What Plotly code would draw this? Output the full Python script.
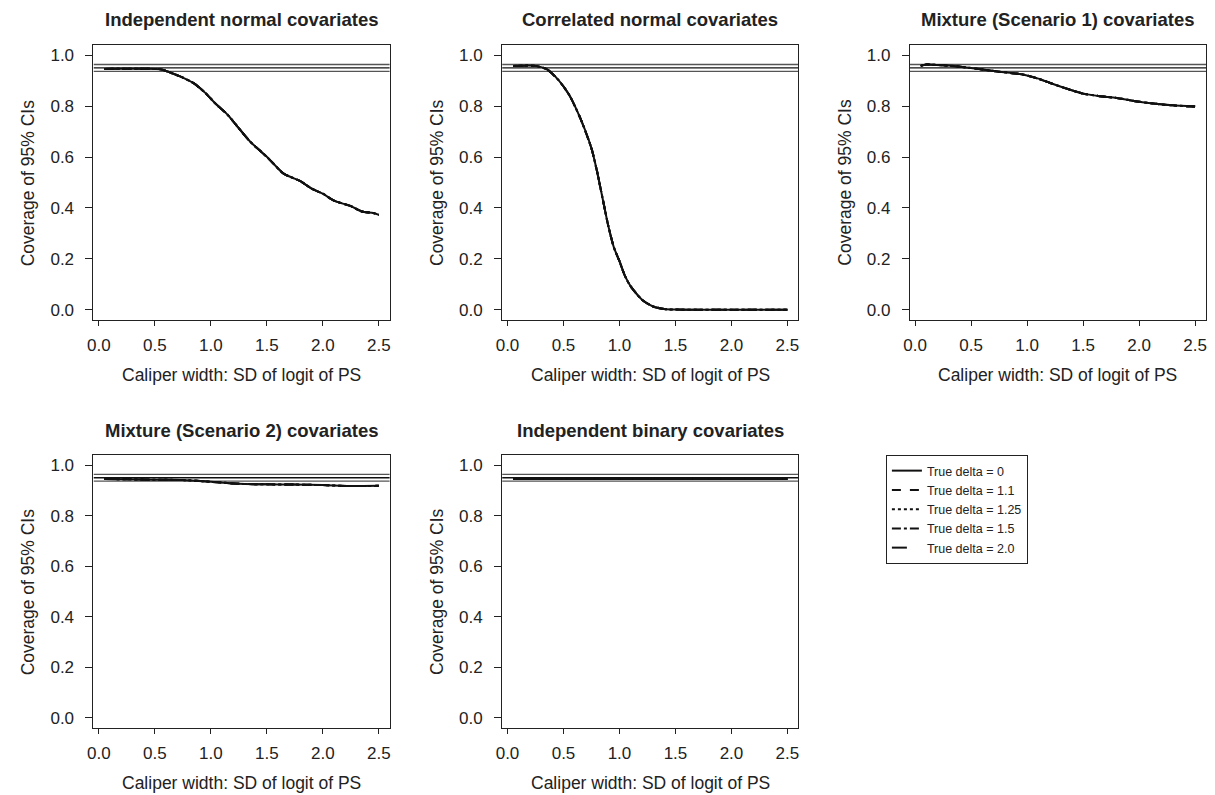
import plotly.graph_objects as go

# ---------------- data ----------------
panel_titles = [
    "Independent normal covariates",
    "Correlated normal covariates",
    "Mixture (Scenario 1) covariates",
    "Mixture (Scenario 2) covariates",
    "Independent binary covariates",
]

delta_labels = ["True delta = 0", "True delta = 1.1", "True delta = 1.25",
                "True delta = 1.5", "True delta = 2.0"]
delta_dashes = ["solid", "dash", "dot", "dashdot", "longdash"]

x_indep = [0.05, 0.2, 0.35, 0.5, 0.55, 0.6, 0.75, 0.85, 0.95, 1.05, 1.15, 1.25, 1.35,
           1.5, 1.65, 1.8, 1.9, 2.0, 2.1, 2.25, 2.35, 2.45, 2.5]
y_indep = [0.946, 0.947, 0.947, 0.946, 0.945, 0.938, 0.912, 0.889, 0.852, 0.806, 0.766,
           0.713, 0.661, 0.601, 0.535, 0.505, 0.476, 0.456, 0.429, 0.407, 0.386, 0.380, 0.373]

x_corr = [0.05, 0.15, 0.25, 0.35, 0.45, 0.55, 0.65, 0.75, 0.8, 0.85, 0.9, 0.95, 1.0,
          1.05, 1.1, 1.2, 1.3, 1.4, 1.5, 1.75, 2.0, 2.25, 2.5]
y_corr = [0.958, 0.959, 0.958, 0.945, 0.905, 0.845, 0.753, 0.634, 0.543, 0.436, 0.330,
          0.245, 0.191, 0.132, 0.092, 0.040, 0.013, 0.003, 0.001, 0.0, 0.0, 0.0, 0.0]

x_mix1 = [0.05, 0.1, 0.25, 0.4, 0.55, 0.75, 0.95, 1.1, 1.2, 1.35, 1.5, 1.65, 1.8,
          2.0, 2.15, 2.3, 2.5]
y_mix1 = [0.958, 0.963, 0.960, 0.955, 0.947, 0.935, 0.925, 0.908, 0.892, 0.869, 0.849,
          0.839, 0.832, 0.817, 0.809, 0.803, 0.798]

x_mix2 = [0.05, 0.25, 0.5, 0.75, 1.0, 1.25, 1.5, 1.75, 2.0, 2.25, 2.5]
y_mix2 = [0.945, 0.944, 0.942, 0.941, 0.934, 0.926, 0.924, 0.923, 0.921, 0.917, 0.918]

x_bin = [0.05, 0.5, 1.0, 1.5, 2.0, 2.5]
y_bin = [0.945, 0.945, 0.945, 0.945, 0.945, 0.945]

panel_x = [x_indep, x_corr, x_mix1, x_mix2, x_bin]
panel_y = [y_indep, y_corr, y_mix1, y_mix2, y_bin]

ref_lines = [0.9635, 0.95, 0.9365]
ref_colors = ["#555555", "#111111", "#555555"]

x_ticks = [0.0, 0.5, 1.0, 1.5, 2.0, 2.5]
y_ticks = [0.0, 0.2, 0.4, 0.6, 0.8, 1.0]

# ---------------- layout geometry ----------------
W, H = 1215, 795
col_px = [(88, 386), (499, 797), (909, 1207)]
row_px = [(45, 320), (455, 728)]
positions = [(0, 0), (0, 1), (0, 2), (1, 0), (1, 1)]

FONT = "Liberation Sans, Arial, Helvetica, sans-serif"
TXT = "#222222"

fig = go.Figure()
layout = dict(
    width=W, height=H,
    margin=dict(l=0, r=0, t=0, b=0),
    paper_bgcolor="white", plot_bgcolor="white",
    font=dict(family=FONT, size=17, color=TXT),
    showlegend=True,
    legend=dict(
        x=885 / W, y=1 - 455 / H, xanchor="left", yanchor="top",
        bordercolor=TXT, borderwidth=1, bgcolor="white",
        font=dict(size=12.5, color=TXT),
        tracegroupgap=0, itemwidth=30,
    ),
)
annotations = []

for i, (r, c) in enumerate(positions):
    ax = "" if i == 0 else str(i + 1)
    x0, x1 = col_px[c]
    y0, y1 = row_px[r]
    layout["xaxis" + ax] = dict(
        domain=[x0 / W, x1 / W], range=[-0.048, 2.598],
        tickvals=x_ticks, ticktext=[f"{v:.1f}" for v in x_ticks],
        ticks="outside", ticklen=5, tickcolor=TXT, ticklabelstandoff=5,
        showline=True, linecolor=TXT, linewidth=1, mirror=True,
        showgrid=False, zeroline=False, anchor="y" + ax,
        tickfont=dict(size=17, color=TXT),
    )
    layout["yaxis" + ax] = dict(
        domain=[1 - y1 / H, 1 - y0 / H], range=[-0.04, 1.04],
        tickvals=y_ticks, ticktext=[f"{v:.1f}" for v in y_ticks],
        ticks="outside", ticklen=7, tickcolor=TXT, ticklabelstandoff=8,
        showline=True, linecolor=TXT, linewidth=1, mirror=True,
        showgrid=False, zeroline=False, anchor="x" + ax,
        tickfont=dict(size=17, color=TXT),
    )
    # reference lines
    for v, col in zip(ref_lines, ref_colors):
        fig.add_trace(go.Scatter(
            x=[-0.048, 2.598], y=[v, v], mode="lines",
            line=dict(color=col, width=1.4), showlegend=False,
            hoverinfo="skip", xaxis="x" + ax, yaxis="y" + ax,
        ))
    # coverage curves for each delta
    for k, (lab, dsh) in enumerate(zip(delta_labels, delta_dashes)):
        fig.add_trace(go.Scatter(
            x=panel_x[i], y=panel_y[i], mode="lines", name=lab,
            line=dict(color="#111111", width=2, dash=dsh, shape="spline", smoothing=0.6),
            showlegend=(i == 0), legendgroup=lab,
            xaxis="x" + ax, yaxis="y" + ax,
        ))
    # titles
    annotations.append(dict(
        text=f"<b>{panel_titles[i]}</b>", xref="paper", yref="paper",
        x=(x0 + x1) / 2 / W, y=1 - (y0 - 25) / H, xanchor="center", yanchor="middle",
        showarrow=False, font=dict(size=18.5, color=TXT),
    ))
    annotations.append(dict(
        text="Caliper width: SD of logit of PS", xref="paper", yref="paper",
        x=(x0 + x1) / 2 / W, y=1 - (y1 + 55) / H, xanchor="center", yanchor="middle",
        showarrow=False, font=dict(size=17.5, color=TXT),
    ))
    annotations.append(dict(
        text="Coverage of 95% CIs", xref="paper", yref="paper",
        x=(x0 - 66) / W, y=1 - (y0 + y1) / 2 / H, xanchor="center", yanchor="middle",
        textangle=-90, showarrow=False, font=dict(size=17.5, color=TXT),
    ))

layout["annotations"] = annotations
fig.update_layout(**layout)
fig.write_html("out.html", config={"displayModeBar": False},
               post_script="document.body.style.margin='0';document.body.style.overflow='hidden';")
